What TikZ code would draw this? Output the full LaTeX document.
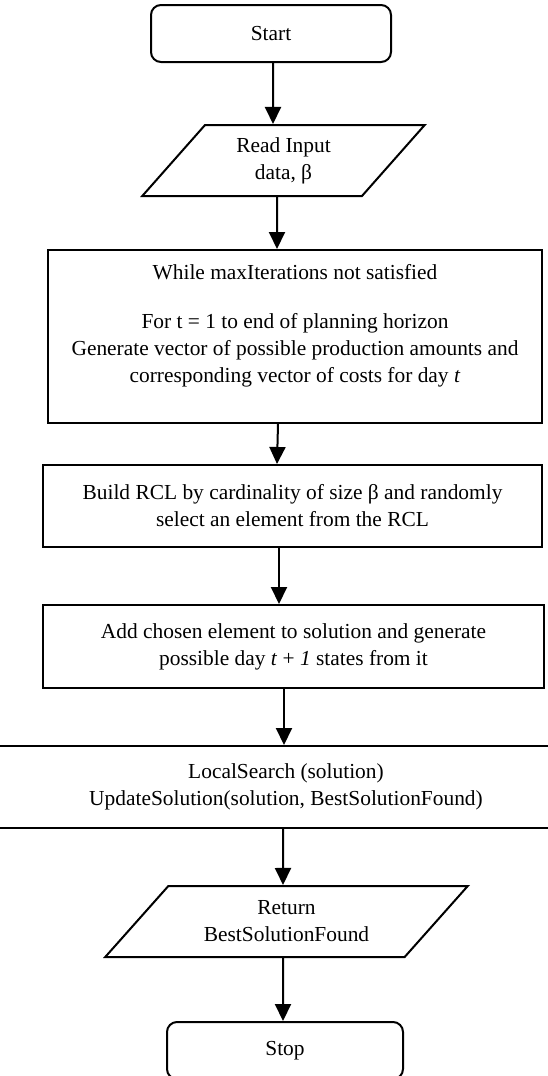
\documentclass[tikz,border=0pt]{standalone}
\usepackage{fontspec}
\setmainfont{Liberation Serif}
\usepackage{tikz}
\usetikzlibrary{arrows.meta}
\usetikzlibrary{shapes.geometric}

\begin{document}
\begin{tikzpicture}[x=1pt,y=1pt,yscale=-1,xscale=1,
  font=\fontsize{21.4}{27}\selectfont,
  box/.style={draw, line width=2pt, align=center, inner sep=2pt},
  terminal/.style={box, rounded corners=10pt},
  iobox/.style={box, trapezium, trapezium stretches=true, minimum height=71pt},
  flow/.style={line width=2pt, -{Triangle[length=17pt,width=16pt]}}]
\useasboundingbox (0,0) rectangle (547,1076);

%Shape: Rounded Rect
\node[terminal, minimum width=240pt, minimum height=57pt] (start) at (271,33.5) {Start};
%Shape: Parallelogram
\node[iobox, trapezium left angle=52, trapezium right angle=128, minimum width=283pt] (read) at (283.5,160.5) {Read Input\\data, β};
%Shape: Rectangle
\node[box, minimum width=494pt, minimum height=173pt] (loop) at (295,336.5) {While maxIterations not satisfied\\[22pt]For t = 1 to end of planning horizon\\Generate vector of possible production amounts and\\corresponding vector of costs for day \textit{t}\\ \mbox{}};
%Shape: Rectangle
\node[box, minimum width=499pt, minimum height=82pt] (rcl) at (292.5,506) {Build RCL by cardinality of size β and randomly\\select an element from the RCL};
%Shape: Rectangle
\node[box, minimum width=501pt, minimum height=83pt] (add) at (293.5,646.5) {Add chosen element to solution and generate\\possible day \textit{t} + \textit{1} states from it};
%Shape: Rectangle
\node[box, minimum width=612pt, minimum height=82pt] (local) at (286,787) {LocalSearch (solution)\\UpdateSolution(solution, BestSolutionFound)};
%Shape: Parallelogram
\node[iobox, trapezium left angle=45, trapezium right angle=135, minimum width=363pt] (ret) at (286.5,921.5) {Return\\BestSolutionFound};
%Shape: Rounded Rect
\node[terminal, minimum width=236pt, minimum height=57pt] (stop) at (285,1050.5) {Stop};

%Straight Lines
\draw[flow] ([xshift=2pt]start.south) -- ([xshift=-10.5pt]read.north);
\draw[flow] ([xshift=-6.5pt]read.south) -- ([xshift=-18pt]loop.north);
\draw[flow] ([xshift=-17pt]loop.south) -- ([xshift=-15.5pt]rcl.north);
\draw[flow] ([xshift=-13.5pt]rcl.south) -- ([xshift=-14.5pt]add.north);
\draw[flow] ([xshift=-9.5pt]add.south) -- ([xshift=-2pt]local.north);
\draw[flow] ([xshift=-3pt]local.south) -- ([xshift=-3.5pt]ret.north);
\draw[flow] ([xshift=-3.5pt]ret.south) -- ([xshift=-2pt]stop.north);

\end{tikzpicture}
\end{document}
